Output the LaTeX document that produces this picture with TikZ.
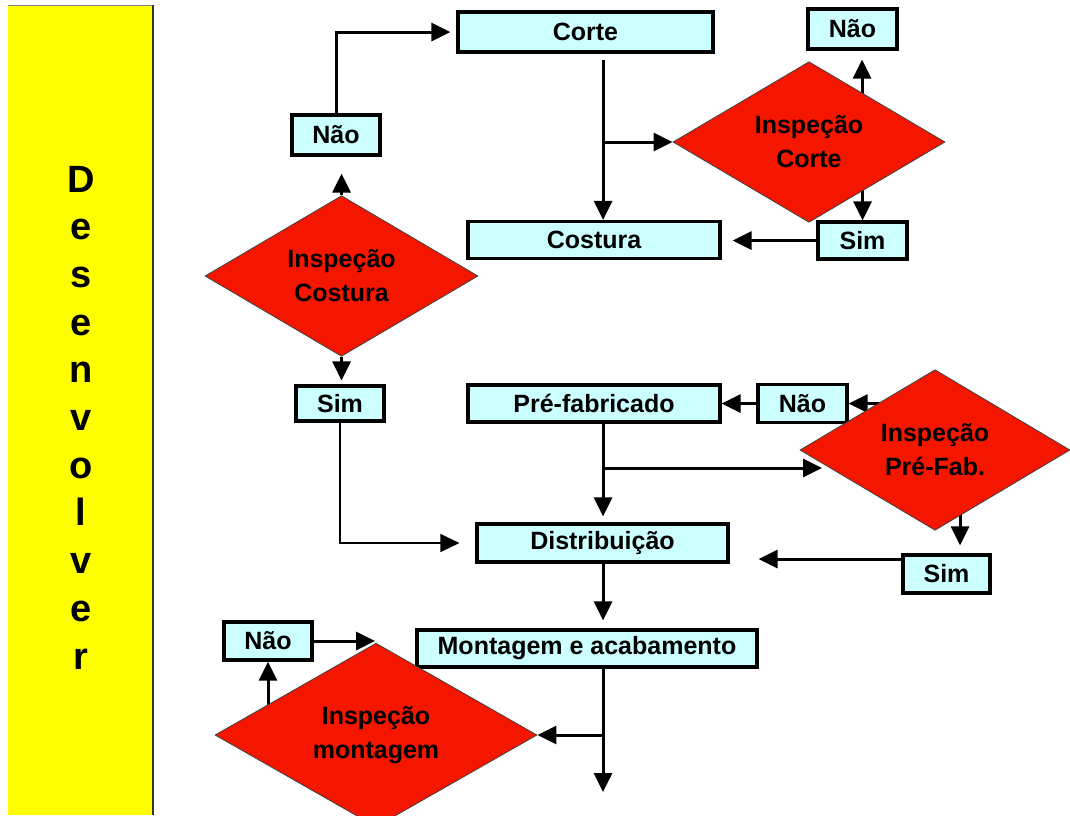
\documentclass[tikz,border=0pt]{standalone}
\usepackage{fontspec}
\setmainfont{Liberation Sans}
\usepackage{xcolor}
\usetikzlibrary{shapes.geometric,arrows.meta,backgrounds}

\definecolor{ciano}{RGB}{204,255,255}
\definecolor{vermelho}{RGB}{245,22,0}
\definecolor{amarelo}{RGB}{255,255,0}

\begin{document}
\begin{tikzpicture}[x=1pt,y=-1pt,
    caixa/.style={draw, line width=3.2pt, fill=ciano, inner sep=0pt, font=\fontsize{25}{28}\selectfont\bfseries},
    losango/.style={diamond, draw=black!75, line width=0.8pt, fill=vermelho, inner sep=0pt, align=center, font=\fontsize{25}{34}\selectfont\bfseries},
    seta/.style={line width=3pt, -{Triangle[length=19pt,width=18pt]}},
    letra/.style={font=\fontsize{38}{38}\selectfont\bfseries, inner sep=0pt}]
    \useasboundingbox (0,0) rectangle (1070,815);

    % faixa amarela
    \fill[amarelo] (8,5) rectangle (153,815);
    \draw[gray, line width=1pt] (8,5) -- (153,5);
    \draw[black!80, line width=1.6pt] (153,5) -- (153,815);
    \foreach \l [count=\i from 0] in {D,e,s,e,n,v,o,l,v,e,r}
        \node[letra, anchor=base] (d\i) at (81,{192+47.7*\i}) {\l};

    % caixas
    \node[caixa, minimum width=255pt, minimum height=40pt] (corte) at (585.5,32) {Corte};
    \node[caixa, minimum width=252pt, minimum height=37pt] (costura) at (594,240) {Costura};
    \node[caixa, minimum width=88pt, minimum height=40pt] (nao1) at (336,135) {Não};
    \node[caixa, minimum width=89pt, minimum height=40pt] (nao2) at (852.5,29) {Não};
    \node[caixa, minimum width=89pt, minimum height=37pt] (sim2) at (862.5,240.5) {Sim};
    \node[caixa, minimum width=88pt, minimum height=35pt] (sim1) at (340,403.5) {Sim};
    \node[caixa, minimum width=252pt, minimum height=37pt] (prefab) at (594,403.5) {Pré-fabricado};
    \node[caixa, minimum width=89pt, minimum height=38pt] (nao3) at (802.5,403.5) {Não};
    \node[caixa, minimum width=251pt, minimum height=38pt] (distrib) at (602.5,543) {Distribuição};
    \node[caixa, minimum width=87pt, minimum height=38pt] (sim3) at (946.5,574) {Sim};
    \node[caixa, minimum width=340pt, minimum height=37pt] (montagem) at (587,648.5) {Montagem e acabamento};
    \node[caixa, minimum width=88pt, minimum height=38pt] (nao4) at (268,641) {Não};

    % losangos
    \node[losango, minimum width=272pt, minimum height=146pt] (icorte) at (809,142) {Inspeção\\Corte};
    \node[losango, minimum width=273pt, minimum height=140pt] (icostura) at (341.5,276) {Inspeção\\Costura};
    \node[losango, minimum width=270pt, minimum height=140pt] (ipref) at (935,450) {Inspeção\\Pré-Fab.};
    \node[losango, minimum width=322pt, minimum height=150pt] (imont) at (376,735) {Inspeção\\montagem};

    \coordinate (j1) at (603,142);
    \coordinate (j2) at (603,468);
    \coordinate (j3) at (603,735);
    \coordinate (t2) at (822,468);
    \coordinate (fim) at (603,792);
    \coordinate (volta) at (375,641);
    \coordinate (k1) at ([xshift=53pt]icorte.center);
    \coordinate (k2) at ([xshift=25pt]ipref.center);
    \coordinate (k3) at ([yshift=15pt]sim3.west);

    \begin{scope}[on background layer]
        \fill[white] (0,0) rectangle (1070,815);
        \draw[seta, shorten >=6pt] (nao1.north) |- (corte.west);
        \draw[seta, shorten <=6pt] (corte.south -| j1) -- (costura.north -| j1);
        \draw[seta] (j1) -- (icorte.west);
        \draw[seta, shorten >=9pt] (k1) -- (k1 |- nao2.south);
        \draw[seta] (icorte.center -| sim2.north) -- (sim2.north);
        \draw[seta, shorten >=11pt] (sim2.west) -- (sim2.west -| costura.east);
        \draw[seta, shorten >=17pt] (icostura.north) -- (icostura.north |- nao1.south);
        \draw[seta, shorten >=4pt] (icostura.south) -- (icostura.south |- sim1.north);
        \draw[line width=1.4pt, -{Triangle[length=19pt,width=18pt]}, shorten >=16pt] (sim1.south) |- (distrib.west);
        \draw[seta, shorten >=6pt] (prefab.south -| j2) -- (distrib.north -| j2);
        \draw[seta] (j2) -- (t2);
        \draw[seta] (ipref.center |- nao3.east) -- (nao3.east);
        \draw[seta] (nao3.west) -- (nao3.west -| prefab.east);
        \draw[seta, shorten >=8pt] (k2) -- (k2 |- sim3.north);
        \draw[seta, shorten >=29pt] (k3) -- (k3 -| distrib.east);
        \draw[seta, shorten >=8pt] (distrib.south -| j2) -- (montagem.north -| j2);
        \draw[seta] (montagem.south -| j3) -- (fim);
        \draw[seta] (j3) -- (imont.east);
        \draw[seta] (imont.center -| nao4.south) -- (nao4.south);
        \draw[seta] (nao4.east) -- (volta);
    \end{scope}
\end{tikzpicture}
\end{document}
